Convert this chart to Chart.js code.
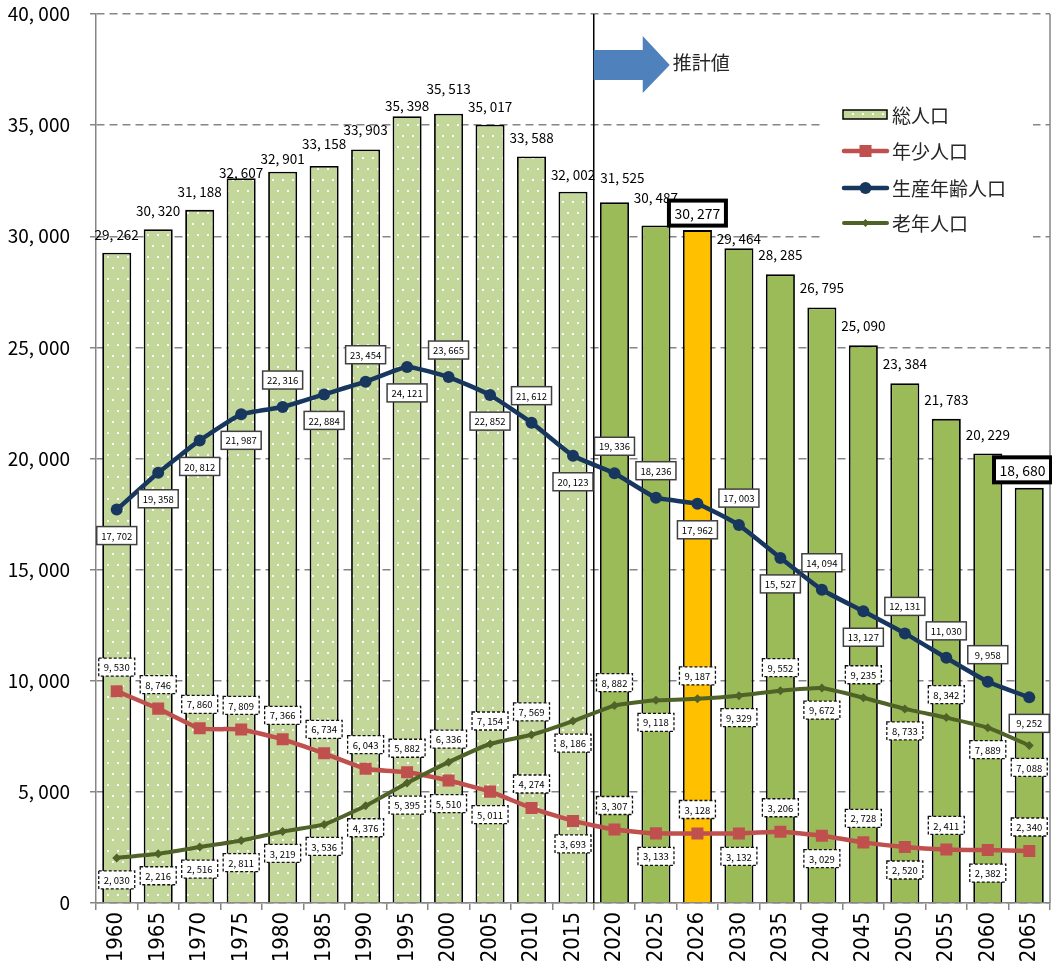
<!DOCTYPE html>
<html>
<head>
<meta charset="utf-8">
<script src="https://cdn.jsdelivr.net/npm/chart.js@4.4.1/dist/chart.umd.min.js"></script>
<style>
html, body { margin: 0; padding: 0; background: #fff; }
#ChartDiv { width: 1052px; height: 962px; }
</style>
</head>
<body>
<div id="ChartDiv"><canvas id="PopChart"></canvas></div>
<script>
/*Dados do grafico*/
const years = ['1960', '1965', '1970', '1975', '1980', '1985', '1990', '1995', '2000', '2005', '2010', '2015',
    '2020', '2025', '2026', '2030', '2035', '2040', '2045', '2050', '2055', '2060', '2065']
const total = [29262, 30320, 31188, 32607, 32901, 33158, 33903, 35398, 35513, 35017, 33588, 32002,
    31525, 30487, 30277, 29464, 28285, 26795, 25090, 23384, 21783, 20229, 18680]
const young = [9530, 8746, 7860, 7809, 7366, 6734, 6043, 5882, 5510, 5011, 4274, 3693,
    3307, 3133, 3128, 3132, 3206, 3029, 2728, 2520, 2411, 2382, 2340]
const working = [17702, 19358, 20812, 21987, 22316, 22884, 23454, 24121, 23665, 22852, 21612, 20123,
    19336, 18236, 17962, 17003, 15527, 14094, 13127, 12131, 11030, 9958, 9252]
const elderly = [2030, 2216, 2516, 2811, 3219, 3536, 4376, 5395, 6336, 7154, 7569, 8186,
    8882, 9118, 9187, 9329, 9552, 9672, 9235, 8733, 8342, 7889, 7088]
const seriesNames = ['総人口', '年少人口', '生産年齢人口', '老年人口']
const yMin = 0, yMax = 40000, yStep = 5000
const lastActual = 2015
const highlightYear = '2026'
const boxedYears = ['2026', '2065']
const arrowText = '推計値'

/*Posicao dos rotulos: u = acima, d = abaixo do ponto*/
const sideWorking = ('dddd' + 'udududud' + 'uud' + 'udud' + 'uuud').split('')
const sideYoung = ('uuuuuuuu' + 'dd' + 'ud' + 'udududududu').split('')
const sideElderly = ('dddddddd' + 'uuud' + 'udududududd').split('')
/*Distancia (px) do rotulo do total acima da barra, como no original*/
const totalLift = [18, 18, 18, 5, 13, 22, 20, 10, 25, 18, 19, 17, 24, 28, 17, 9, 19, 20, 19, 19, 19, 19, 18]
const totalShift = [0, 0, 0, 0, 0, 0, 0, 0, 0, 0, 0, 0, 8, 0, 0, 0, 0, 0, 0, 0, 0, 0, 0]

const FONT = "'Noto Sans CJK JP', 'Noto Sans', sans-serif"

/*Formata 12345 como "12, 345"*/
function fmt(v) {
    return Number(v).toLocaleString('en-US').replace(/,/g, ', ')
}

/*Padrao pontilhado das barras de valores reais*/
function makeDots() {
    const c = document.createElement('canvas')
    c.width = 10
    c.height = 22
    const g = c.getContext('2d')
    g.fillStyle = '#C4D79B'
    g.fillRect(0, 0, 10, 22)
    g.fillStyle = 'rgba(255,255,255,0.95)'
    g.fillRect(2, 3, 2, 2)
    g.fillRect(7, 14, 2, 2)
    return g.createPattern(c, 'repeat')
}
const dots = makeDots()

const barColors = years.map(y => {
    if (y === highlightYear) return '#FFC000'
    if (Number(y) <= lastActual) return dots
    return '#9BBB59'
})

function boxLabel(ctx, cx, cy, w, h, text, o) {
    ctx.save()
    ctx.fillStyle = '#fff'
    ctx.fillRect(cx - w / 2, cy - h / 2, w, h)
    ctx.lineWidth = o.lw
    ctx.strokeStyle = o.color
    ctx.setLineDash(o.dash || [])
    ctx.strokeRect(cx - w / 2, cy - h / 2, w, h)
    ctx.setLineDash([])
    ctx.fillStyle = '#000'
    ctx.font = o.font
    ctx.textAlign = 'center'
    ctx.textBaseline = 'middle'
    ctx.fillText(text, cx, cy + 0.5)
    ctx.restore()
}

function marker(ctx, style, x, y, r, color) {
    ctx.save()
    ctx.fillStyle = color
    ctx.beginPath()
    if (style === 'circle') {
        ctx.arc(x, y, r, 0, Math.PI * 2)
    } else if (style === 'rect') {
        const s = r * Math.SQRT1_2
        ctx.rect(x - s, y - s, 2 * s, 2 * s)
    } else {
        ctx.moveTo(x, y - r); ctx.lineTo(x + r, y); ctx.lineTo(x, y + r); ctx.lineTo(x - r, y)
        ctx.closePath()
    }
    ctx.fill()
    ctx.restore()
}

function splitX(chart) {
    const x = chart.scales.x
    const idx = years.findIndex(y => Number(y) > lastActual)
    return (x.getPixelForValue(idx - 1) + x.getPixelForValue(idx)) / 2
}

/*Linha vertical que separa valores reais e estimados, rotulos, seta e legenda*/
const decor = {
    id: 'decor',
    beforeDatasetsDraw(chart) {
        const {ctx, chartArea} = chart
        const bx = splitX(chart)
        ctx.save()
        ctx.strokeStyle = '#868686'
        ctx.lineWidth = 1.5
        ctx.beginPath()
        ctx.moveTo(chartArea.right, chartArea.top)
        ctx.lineTo(chartArea.right, chartArea.bottom)
        ctx.stroke()
        ctx.strokeStyle = '#000'
        ctx.beginPath()
        ctx.moveTo(bx, chartArea.top)
        ctx.lineTo(bx, chartArea.bottom)
        ctx.stroke()
        ctx.restore()
    },
    afterDatasetsDraw(chart) {
        const {ctx, chartArea} = chart

        /*Rotulos do total acima das barras*/
        chart.getDatasetMeta(0).data.forEach((bar, i) => {
            const txt = fmt(total[i])
            const cy = bar.y - totalLift[i]
            let cx = bar.x + totalShift[i]
            if (boxedYears.includes(years[i])) {
                const w = 57
                if (cx + w / 2 > chartArea.right + 1) cx = chartArea.right + 1 - w / 2
                boxLabel(ctx, cx, cy, w, 25, txt, {lw: 4, color: '#000', font: '14px ' + FONT})
            } else {
                ctx.save()
                ctx.fillStyle = '#000'
                ctx.font = '13.5px ' + FONT
                ctx.textAlign = 'center'
                ctx.textBaseline = 'middle'
                ctx.fillText(txt, cx, cy)
                ctx.restore()
            }
        })

        /*Rotulos das linhas*/
        const cfg = [
            {ds: 2, vals: working, side: sideWorking, up: 27, down: 26, w: 40, o: {lw: 1.5, color: '#404040', font: '9.5px ' + FONT}},
            {ds: 1, vals: young, side: sideYoung, up: 24, down: 23, w: 36, o: {lw: 1.3, color: '#111', dash: [3, 2], font: '9.5px ' + FONT}},
            {ds: 3, vals: elderly, side: sideElderly, up: 23, down: 22, w: 36, o: {lw: 1.3, color: '#111', dash: [3, 2], font: '9.5px ' + FONT}}
        ]
        cfg.forEach(c => {
            chart.getDatasetMeta(c.ds).data.forEach((pt, i) => {
                const cy = c.side[i] === 'u' ? pt.y - c.up : pt.y + c.down
                boxLabel(ctx, pt.x, cy, c.w, 18, fmt(c.vals[i]), c.o)
            })
        })
    },
    afterDraw(chart) {
        const {ctx, chartArea} = chart
        const bx = splitX(chart)

        /*Seta azul*/
        ctx.save()
        ctx.fillStyle = '#4F81BD'
        ctx.beginPath()
        ctx.moveTo(bx, 50)
        ctx.lineTo(bx + 49, 50)
        ctx.lineTo(bx + 49, 36)
        ctx.lineTo(bx + 76, 65)
        ctx.lineTo(bx + 49, 93)
        ctx.lineTo(bx + 49, 80)
        ctx.lineTo(bx, 80)
        ctx.closePath()
        ctx.fill()
        ctx.fillStyle = '#262626'
        ctx.font = '19px ' + FONT
        ctx.textBaseline = 'middle'
        ctx.fillText(arrowText, bx + 79, 63)
        ctx.restore()

        /*Legenda*/
        const lx = chartArea.right - 207
        ctx.save()
        ctx.fillStyle = '#fff'
        ctx.fillRect(lx - 21, 96, 211, 148)
        const rows = [115, 151, 188, 223]
        const styles = [null,
            {c: '#C0504D', w: 4.5, p: 'rect', r: 8.5},
            {c: '#17375E', w: 4.5, p: 'circle', r: 6},
            {c: '#4F6228', w: 4, p: 'diamond', r: 4}]
        rows.forEach((ry, k) => {
            if (k === 0) {
                ctx.fillStyle = dots
                ctx.fillRect(lx, ry - 5, 44, 9)
                ctx.strokeStyle = '#000'
                ctx.lineWidth = 1.5
                ctx.strokeRect(lx, ry - 5, 44, 9)
            } else {
                const s = styles[k]
                ctx.strokeStyle = s.c
                ctx.lineWidth = s.w
                ctx.lineCap = 'round'
                ctx.beginPath()
                ctx.moveTo(lx + 1, ry)
                ctx.lineTo(lx + 44, ry)
                ctx.stroke()
                marker(ctx, s.p, lx + 22.5, ry, s.r, s.c)
            }
            ctx.fillStyle = '#262626'
            ctx.font = '19px ' + FONT
            ctx.textBaseline = 'middle'
            ctx.fillText(seriesNames[k], lx + 49, ry + 1)
        })
        ctx.restore()
    }
}

const ctx = document.getElementById('PopChart').getContext('2d')
const PopChart = new Chart(ctx, {
    data: {
        labels: years,
        datasets: [
            {
                type: 'bar',
                label: seriesNames[0],
                data: total,
                backgroundColor: barColors,
                borderColor: '#000',
                borderWidth: 1.8,
                barPercentage: 0.7,
                categoryPercentage: 1,
                order: 10
            },
            {
                type: 'line',
                label: seriesNames[1],
                data: young,
                borderColor: '#C0504D',
                backgroundColor: '#C0504D',
                borderWidth: 4.5,
                pointStyle: 'rect',
                pointRadius: 8.5,
                pointBorderWidth: 0,
                tension: 0.15,
                order: 3
            },
            {
                type: 'line',
                label: seriesNames[2],
                data: working,
                borderColor: '#17375E',
                backgroundColor: '#17375E',
                borderWidth: 4.5,
                pointStyle: 'circle',
                pointRadius: 6,
                pointBorderWidth: 0,
                tension: 0.15,
                order: 1
            },
            {
                type: 'line',
                label: seriesNames[3],
                data: elderly,
                borderColor: '#4F6228',
                backgroundColor: '#4F6228',
                borderWidth: 4,
                pointStyle: 'rectRot',
                pointRadius: 4.5,
                pointBorderWidth: 0,
                tension: 0.15,
                order: 2
            }
        ]
    },
    options: {
        responsive: true,
        maintainAspectRatio: false,
        animation: false,
        layout: {autoPadding: false, padding: {top: 14, right: 2, left: 0, bottom: 0}},
        plugins: {
            legend: {display: false},
            tooltip: {enabled: false}
        },
        scales: {
            x: {
                offset: true,
                grid: {offset: true, drawOnChartArea: false, tickLength: 7, color: '#868686', lineWidth: 1.5},
                border: {color: '#868686', width: 1.5},
                ticks: {
                    autoSkip: false,
                    minRotation: 90,
                    maxRotation: 90,
                    padding: 2,
                    color: '#000',
                    font: {family: "'Liberation Sans Narrow', 'DejaVu Sans Condensed', sans-serif", size: 22}
                },
                afterFit(scale) {
                    scale.height = 59
                    scale.paddingLeft = 0
                    scale.paddingRight = 0
                }
            },
            y: {
                min: yMin,
                max: yMax,
                grid: {color: '#868686', lineWidth: 1.5, tickLength: 6},
                border: {color: '#868686', width: 1.5, dash: [8, 5]},
                ticks: {
                    stepSize: yStep,
                    padding: 20,
                    color: '#000',
                    font: {family: FONT, size: 19},
                    callback: v => fmt(v)
                },
                afterFit(scale) {
                    scale.width = 96
                    scale.paddingTop = 0
                    scale.paddingBottom = 0
                }
            }
        }
    },
    plugins: [decor]
})
</script>
</body>
</html>
